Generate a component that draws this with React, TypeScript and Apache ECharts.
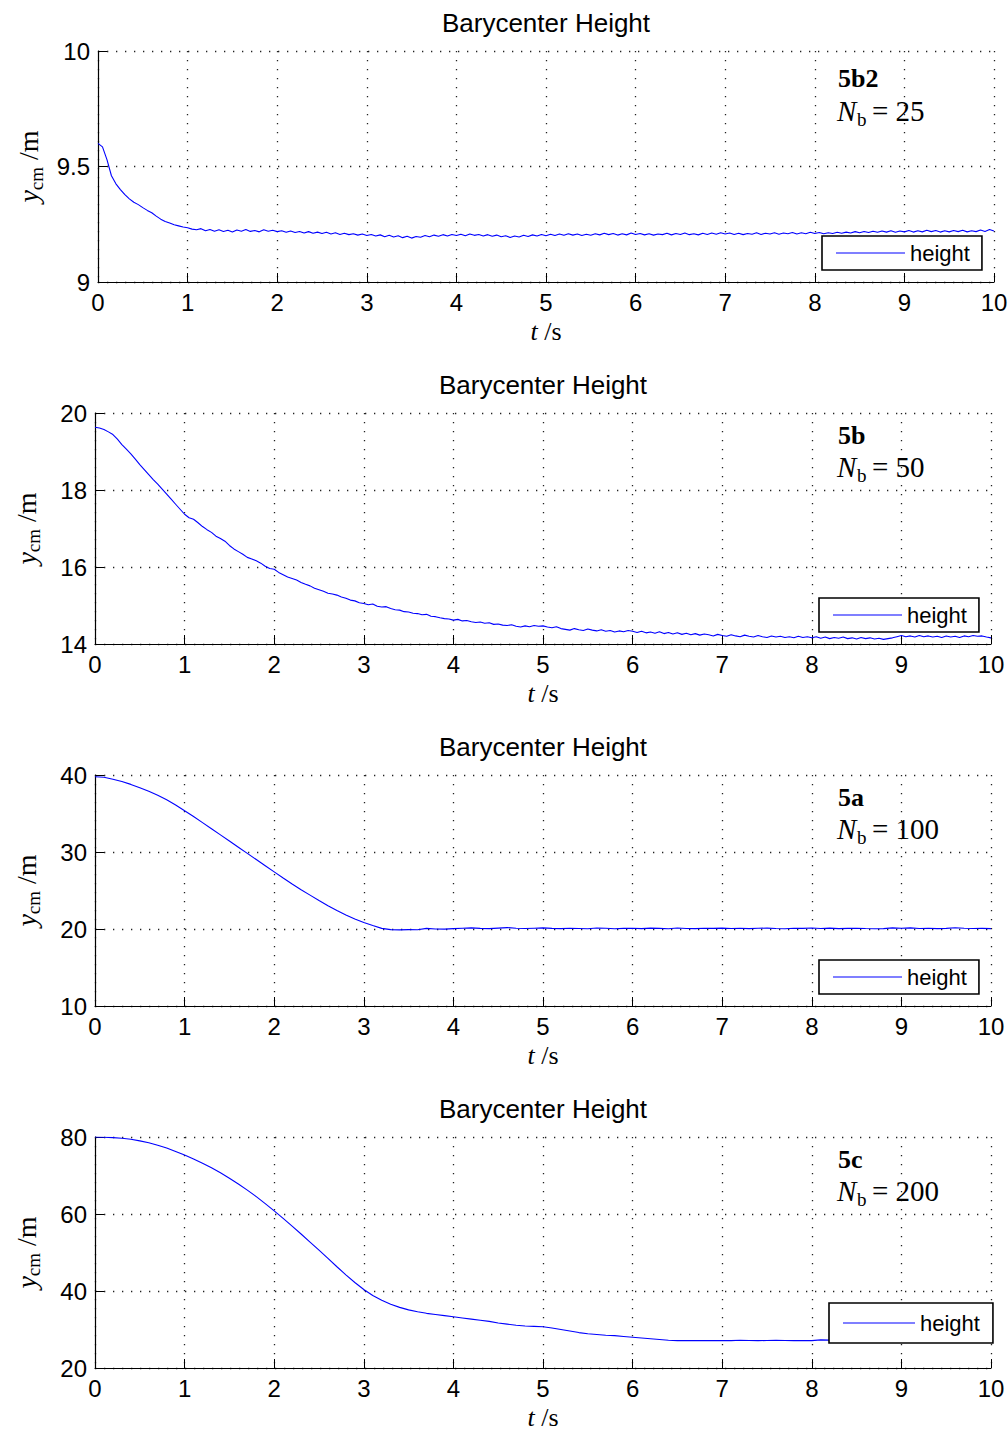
import React, { useEffect, useRef } from "react";
import * as echarts from "echarts";

// ---------- text ----------
const TITLE = "Barycenter Height";
const SERIES_NAME = "height";
const PANEL_TAGS = ["5b2", "5b", "5a", "5c"];
const PANEL_NB = ["25", "50", "100", "200"];

// ---------- axes ----------
const X_MIN = 0;
const X_MAX = 10;
const X_INTERVAL = 1;
const Y_MIN = [9, 14, 10, 20];
const Y_MAX = [10, 20, 40, 80];
const Y_INTERVAL = [0.5, 2, 10, 20];

// ---------- sample spacing (s) ----------
const STEP = [0.05, 0.05, 0.1, 0.1];

// ---------- series values ----------
const H_5B2 = [
  9.600, 9.585, 9.530, 9.460, 9.425, 9.400, 9.378, 9.360, 9.345, 9.335,
  9.322, 9.310, 9.300, 9.285, 9.272, 9.262, 9.255, 9.248, 9.243, 9.238,
  9.235,
  9.229, 9.226, 9.231, 9.222, 9.227, 9.220, 9.226, 9.219, 9.224, 9.216,
  9.225, 9.220, 9.227, 9.219, 9.223, 9.217, 9.226, 9.220, 9.224, 9.218,
  9.222, 9.215, 9.221, 9.214, 9.219, 9.212, 9.218, 9.211, 9.216, 9.210,
  9.215, 9.208, 9.213, 9.206, 9.211, 9.205, 9.209, 9.203, 9.208, 9.201,
  9.206, 9.199, 9.204, 9.196, 9.202, 9.195, 9.200, 9.192, 9.198, 9.190,
  9.197, 9.194, 9.201, 9.196, 9.203, 9.198, 9.205, 9.199, 9.206, 9.201,
  9.207, 9.200, 9.208, 9.202, 9.206, 9.199, 9.205, 9.198, 9.203, 9.196,
  9.200, 9.193, 9.199, 9.195, 9.202, 9.197, 9.204, 9.199, 9.206, 9.200,
  9.207, 9.201, 9.208, 9.202, 9.209, 9.203, 9.208, 9.201, 9.207, 9.202,
  9.209, 9.204, 9.211, 9.205, 9.210, 9.203, 9.209, 9.204, 9.212, 9.206,
  9.210, 9.204, 9.209, 9.203, 9.208, 9.205, 9.211, 9.204, 9.210, 9.206,
  9.212, 9.205, 9.209, 9.204, 9.211, 9.206, 9.212, 9.207, 9.213, 9.208,
  9.212, 9.206, 9.211, 9.205, 9.210, 9.207, 9.213, 9.206, 9.211, 9.208,
  9.213, 9.207, 9.212, 9.209, 9.214, 9.208, 9.213, 9.209, 9.215, 9.210,
  9.214, 9.209, 9.213, 9.210, 9.215, 9.211, 9.216, 9.212, 9.218, 9.213,
  9.219, 9.214, 9.220, 9.215, 9.221, 9.216, 9.222, 9.215, 9.221, 9.217,
  9.223, 9.216, 9.222, 9.217, 9.224, 9.218, 9.223, 9.216, 9.222, 9.217,
  9.223, 9.218, 9.224, 9.217, 9.222, 9.218, 9.225, 9.219, 9.227, 9.221,
];

const H_5B = [
  19.63, 19.61, 19.57, 19.51, 19.44, 19.32, 19.18, 19.06, 18.94, 18.80,
  18.66, 18.53, 18.40, 18.27, 18.15, 18.02, 17.89, 17.76, 17.63, 17.50,
  17.37,
  17.28, 17.24, 17.15, 17.05, 16.97, 16.90, 16.80, 16.74, 16.67, 16.56,
  16.47, 16.40, 16.33, 16.25, 16.21, 16.16, 16.10, 16.02, 15.96, 15.94,
  15.86, 15.80, 15.74, 15.70, 15.66, 15.60, 15.55, 15.51, 15.45, 15.41,
  15.37, 15.32, 15.30, 15.27, 15.22, 15.19, 15.14, 15.12, 15.07, 15.05,
  15.02, 15.04, 14.98, 14.96, 14.97, 14.92, 14.89, 14.88, 14.84, 14.83,
  14.80, 14.79, 14.76, 14.77, 14.72, 14.71, 14.68, 14.66, 14.65, 14.62,
  14.64, 14.60, 14.61, 14.58, 14.56, 14.57, 14.54, 14.55, 14.51, 14.52,
  14.49, 14.48, 14.50, 14.46, 14.44, 14.47, 14.45, 14.48, 14.46, 14.47,
  14.44, 14.42, 14.45, 14.40, 14.38, 14.36, 14.40, 14.37, 14.35, 14.39,
  14.36, 14.34, 14.37, 14.33, 14.35, 14.31, 14.34, 14.32, 14.35, 14.33,
  14.30, 14.33, 14.29, 14.31, 14.28, 14.32, 14.27, 14.30, 14.26, 14.29,
  14.25, 14.28, 14.24, 14.27, 14.23, 14.26, 14.24, 14.21, 14.25, 14.22,
  14.20, 14.24, 14.21, 14.19, 14.23, 14.20, 14.18, 14.22, 14.19, 14.17,
  14.21, 14.18, 14.20, 14.17, 14.19, 14.16, 14.20, 14.17, 14.19, 14.16,
  14.19, 14.15, 14.18, 14.14, 14.17, 14.15, 14.18, 14.14, 14.16, 14.13,
  14.17, 14.14, 14.16, 14.13, 14.15, 14.12, 14.14, 14.16, 14.19, 14.22,
  14.19, 14.21, 14.18, 14.22, 14.19, 14.21, 14.18, 14.20, 14.17, 14.21,
  14.18, 14.20, 14.17, 14.21, 14.19, 14.22, 14.20, 14.21, 14.18, 14.16,
];

const H_5A = [
  39.78, 39.70, 39.45, 39.15, 38.78, 38.35, 37.88, 37.36, 36.78, 36.10,
  35.35, 34.60, 33.82, 33.02, 32.22, 31.42, 30.62, 29.82, 29.02, 28.22,
  27.42, 26.62, 25.84, 25.10, 24.40, 23.70, 23.02, 22.40, 21.82, 21.30,
  20.85, 20.45, 20.08, 19.92, 19.88, 19.92, 19.90, 20.08, 20.00, 19.98,
  20.05, 20.10, 20.15, 20.08, 20.05, 20.12, 20.18, 20.10, 20.06, 20.10,
  20.14, 20.08, 20.05, 20.10, 20.07, 20.04, 20.12, 20.09, 20.04, 20.08,
  20.10, 20.05, 20.12, 20.08, 20.04, 20.13, 20.07, 20.05, 20.10, 20.08,
  20.12, 20.06, 20.10, 20.05, 20.09, 20.12, 20.07, 20.04, 20.10, 20.08,
  20.13, 20.07, 20.12, 20.05, 20.08, 20.10, 20.06, 20.04, 20.05, 20.15,
  20.10, 20.14, 20.07, 20.10, 20.05, 20.08, 20.16, 20.10, 20.06, 20.08,
  20.05,
];

const H_5C = [
  80.00, 79.95, 79.85, 79.68, 79.40, 79.00, 78.50, 77.88, 77.12, 76.25,
  75.30, 74.30, 73.20, 72.00, 70.70, 69.30, 67.80, 66.20, 64.50, 62.70,
  60.80, 58.85, 56.85, 54.80, 52.70, 50.60, 48.45, 46.30, 44.20, 42.20,
  40.40, 38.85, 37.60, 36.55, 35.75, 35.10, 34.60, 34.20, 33.90, 33.60,
  33.30, 33.00, 32.70, 32.40, 32.10, 31.70, 31.40, 31.10, 30.90, 30.80,
  30.70, 30.40, 30.00, 29.60, 29.20, 28.90, 28.70, 28.50, 28.40, 28.20,
  28.00, 27.80, 27.60, 27.40, 27.20, 27.10, 27.15, 27.10, 27.15, 27.10,
  27.15, 27.10, 27.20, 27.15, 27.10, 27.15, 27.20, 27.15, 27.10, 27.15,
  27.10, 27.30, 27.25, 27.20, 27.25, 27.20, 27.30, 27.25, 27.20, 27.25,
  27.20, 27.30, 27.25, 27.20, 27.25, 27.20, 27.30, 27.25, 27.20, 27.25,
  27.20,
];

const SERIES_VALUES = [H_5B2, H_5B, H_5A, H_5C];

// ---------- layout (pixels) ----------
const W = 1008;
const H = 1430;
const GRID_LEFT = [98, 95, 95, 95];
const GRID_TOP = [51, 413, 775, 1137];
const GRID_W = 896;
const GRID_H = 231;
const TAG_DY = [27, 22, 22, 22];
const NB_DY = [60, 54, 54, 54];
const LEGEND_BOX = [
  { left: 822, top: 236, padding: [5, 12, 5, 14], itemWidth: 69 },
  { left: 819, top: 598, padding: [5, 12, 5, 14], itemWidth: 69 },
  { left: 819, top: 960, padding: [5, 12, 5, 14], itemWidth: 69 },
  { left: 829, top: 1303, padding: [8, 13, 8, 14], itemWidth: 72 },
];

const SANS = '"Liberation Sans", Arial, Helvetica, sans-serif';
const SERIF = '"Liberation Serif", "Times New Roman", serif';
const BLUE = "#0000ff";

function buildOption() {
  const idx = [0, 1, 2, 3];
  const grid = idx.map((i) => ({
    left: GRID_LEFT[i],
    top: GRID_TOP[i],
    width: GRID_W,
    height: GRID_H,
    containLabel: false,
    outerBoundsMode: "none",
  }));

  const splitLine = {
    show: true,
    showMinLine: true,
    showMaxLine: true,
    lineStyle: { color: "#222", width: 1.3, type: [1.3, 7.7] },
  };

  const xAxis = idx.map((i) => ({
    type: "value",
    gridIndex: i,
    min: X_MIN,
    max: X_MAX,
    interval: X_INTERVAL,
    name: "{i|t}{n| /s}",
    nameLocation: "middle",
    nameGap: 36,
    nameTextStyle: {
      rich: {
        i: { fontFamily: SERIF, fontStyle: "italic", fontSize: 26, color: "#000" },
        n: { fontFamily: SERIF, fontSize: 26, color: "#000" },
      },
    },
    axisLine: { show: true, onZero: false, lineStyle: { color: "#000", width: 1.2 } },
    axisTick: { show: true, inside: true, length: 9, lineStyle: { color: "#000", width: 1 } },
    axisLabel: { show: true, margin: 8, fontSize: 24, fontFamily: SANS, color: "#000" },
    splitLine,
  }));

  const yAxis = idx.map((i) => ({
    type: "value",
    gridIndex: i,
    min: Y_MIN[i],
    max: Y_MAX[i],
    interval: Y_INTERVAL[i],
    name: "{v|y}{s|cm}{u| /m}",
    nameLocation: "middle",
    nameRotate: 90,
    nameGap: 52,
    nameTextStyle: {
      rich: {
        v: { fontFamily: SERIF, fontStyle: "italic", fontSize: 28, color: "#000", lineHeight: 34, verticalAlign: "middle" },
        s: { fontFamily: SERIF, fontSize: 19, color: "#000", lineHeight: 34, verticalAlign: "bottom" },
        u: { fontFamily: SERIF, fontSize: 28, color: "#000", lineHeight: 34, verticalAlign: "middle" },
      },
    },
    axisLine: { show: true, onZero: false, lineStyle: { color: "#000", width: 1.2 } },
    axisTick: { show: true, inside: true, length: 9, lineStyle: { color: "#000", width: 1 } },
    axisLabel: { show: true, margin: 8, fontSize: 24, fontFamily: SANS, color: "#000" },
    splitLine,
  }));

  const series = idx.map((i) => ({
    type: "line",
    name: SERIES_NAME,
    xAxisIndex: i,
    yAxisIndex: i,
    data: SERIES_VALUES[i].map((v, k) => [k * STEP[i], v]),
    symbol: "none",
    showSymbol: false,
    smooth: false,
    lineStyle: { color: BLUE, width: 1.1 },
    itemStyle: { color: BLUE },
    clip: true,
    z: 3,
  }));

  const legend = idx.map((i) => ({
    show: true,
    data: [{ name: SERIES_NAME, icon: "rect" }],
    left: LEGEND_BOX[i].left,
    top: LEGEND_BOX[i].top,
    orient: "horizontal",
    padding: LEGEND_BOX[i].padding,
    itemWidth: LEGEND_BOX[i].itemWidth,
    itemHeight: 1.2,
    itemGap: 0,
    itemStyle: { color: BLUE, borderWidth: 0 },
    backgroundColor: "#fff",
    borderColor: "#000",
    borderWidth: 1.6,
    borderRadius: 0,
    selectedMode: false,
    textStyle: { fontFamily: SANS, fontSize: 22, color: "#000", lineHeight: 24, height: 24 },
  }));

  const title = idx.map((i) => ({
    text: TITLE,
    left: GRID_LEFT[i] + GRID_W / 2,
    top: GRID_TOP[i] - 41,
    textAlign: "center",
    padding: 0,
    textStyle: { fontFamily: SANS, fontSize: 26, fontWeight: "normal", color: "#000" },
  }));

  const graphic: any[] = [];
  idx.forEach((i) => {
    const x0 = 838;
    const yTag = GRID_TOP[i] + TAG_DY[i];
    const yNb = GRID_TOP[i] + NB_DY[i];
    graphic.push({
      type: "text",
      x: x0,
      y: yTag,
      z: 10,
      style: {
        text: PANEL_TAGS[i],
        fontFamily: SERIF,
        fontWeight: "bold",
        fontSize: 26,
        fill: "#000",
        textAlign: "left",
        textVerticalAlign: "middle",
      },
    });
    graphic.push({
      type: "text",
      x: x0 - 1,
      y: yNb,
      z: 10,
      style: {
        text: "N",
        fontFamily: SERIF,
        fontStyle: "italic",
        fontSize: 29,
        fill: "#000",
        textAlign: "left",
        textVerticalAlign: "middle",
      },
    });
    graphic.push({
      type: "text",
      x: x0 + 19,
      y: yNb + 8,
      z: 10,
      style: {
        text: "b",
        fontFamily: SERIF,
        fontSize: 19,
        fill: "#000",
        textAlign: "left",
        textVerticalAlign: "middle",
      },
    });
    graphic.push({
      type: "text",
      x: x0 + 34,
      y: yNb,
      z: 10,
      style: {
        text: "= " + PANEL_NB[i],
        fontFamily: SERIF,
        fontSize: 29,
        fill: "#000",
        textAlign: "left",
        textVerticalAlign: "middle",
      },
    });
  });

  return {
    animation: false,
    backgroundColor: "#fff",
    title,
    grid,
    xAxis,
    yAxis,
    legend,
    series,
    graphic,
  };
}

export default function App() {
  const ref = useRef<HTMLDivElement>(null);
  useEffect(() => {
    document.body.style.margin = "0";
    if (!ref.current) return;
    const chart = echarts.init(ref.current, null, { renderer: "svg", width: W, height: H });
    chart.setOption(buildOption() as any);
    return () => {
      chart.dispose();
    };
  }, []);
  return <div ref={ref} style={{ width: W, height: H, background: "#fff" }} />;
}
